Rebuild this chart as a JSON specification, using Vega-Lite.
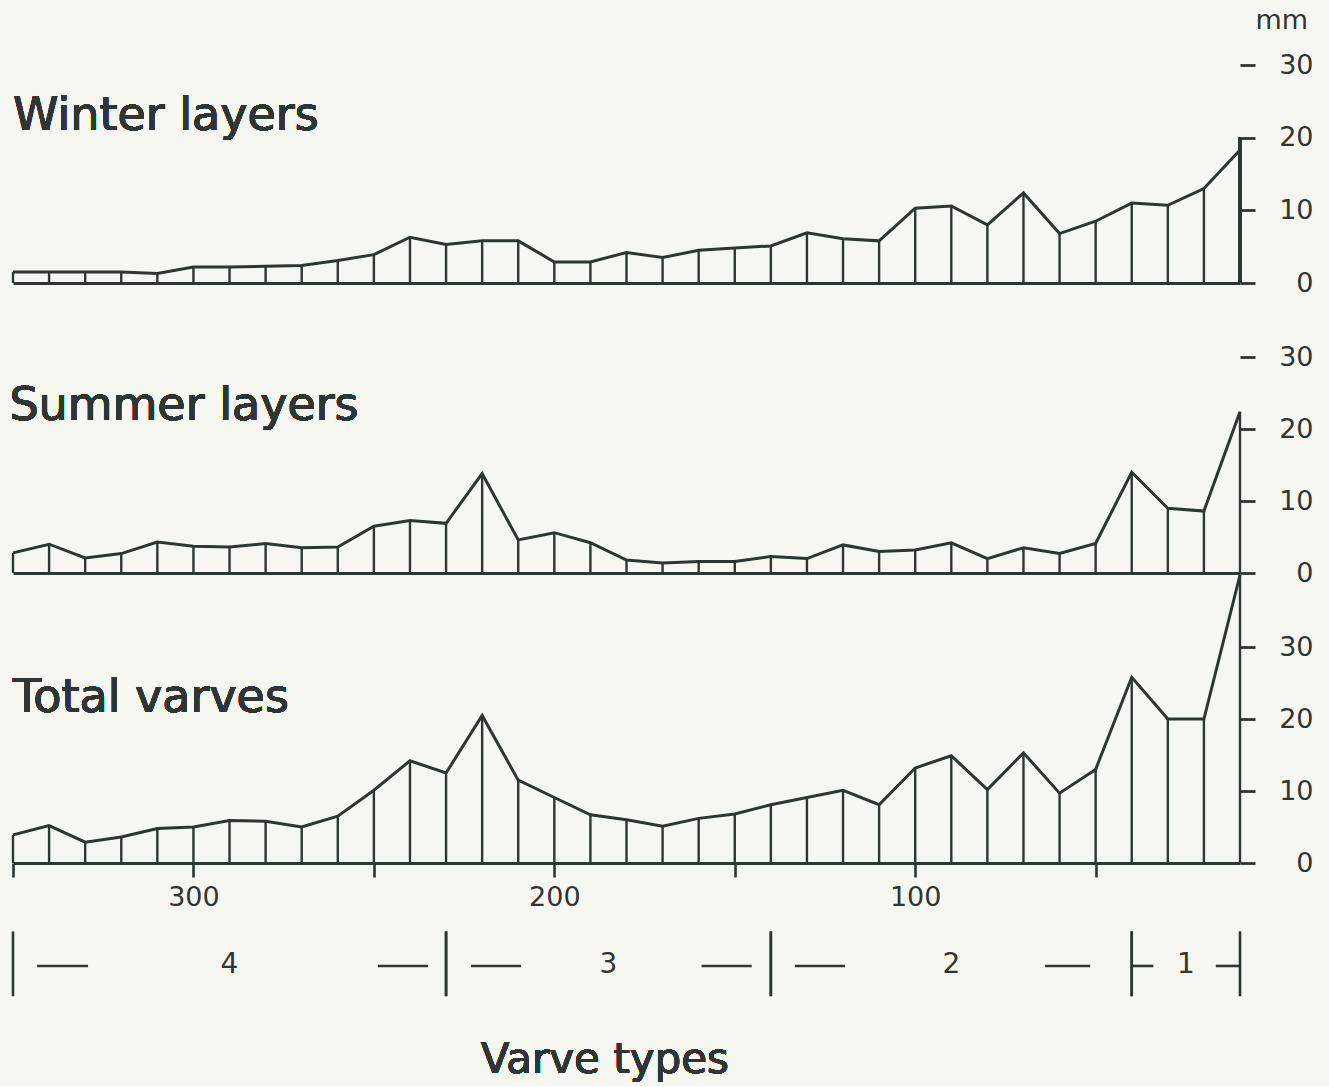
{
  "$schema": "https://vega.github.io/schema/vega-lite/v6.json",
  "background": "#f7f7f2",
  "padding": {"left": 7, "top": 6, "right": 21, "bottom": 4},
  "config": {
    "font": "DejaVu Sans",
    "view": {"stroke": null},
    "axis": {"labelColor": "#2f3532", "titleColor": "#2f3532", "grid": false}
  },
  "datasets": {
    "varves": [
      {"n": 350, "winter": 1.5, "summer": 2.8, "total": 3.9},
      {"n": 340, "winter": 1.5, "summer": 4.0, "total": 5.2},
      {"n": 330, "winter": 1.5, "summer": 2.1, "total": 2.9},
      {"n": 320, "winter": 1.5, "summer": 2.7, "total": 3.6},
      {"n": 310, "winter": 1.3, "summer": 4.3, "total": 4.8},
      {"n": 300, "winter": 2.2, "summer": 3.7, "total": 5.0},
      {"n": 290, "winter": 2.2, "summer": 3.6, "total": 5.9},
      {"n": 280, "winter": 2.3, "summer": 4.1, "total": 5.8},
      {"n": 270, "winter": 2.4, "summer": 3.5, "total": 5.0},
      {"n": 260, "winter": 3.1, "summer": 3.6, "total": 6.5},
      {"n": 250, "winter": 3.9, "summer": 6.5, "total": 10.1},
      {"n": 240, "winter": 6.3, "summer": 7.3, "total": 14.2},
      {"n": 230, "winter": 5.3, "summer": 6.9, "total": 12.5},
      {"n": 220, "winter": 5.8, "summer": 13.8, "total": 20.5},
      {"n": 210, "winter": 5.8, "summer": 4.6, "total": 11.5},
      {"n": 200, "winter": 2.9, "summer": 5.6, "total": 9.1},
      {"n": 190, "winter": 2.9, "summer": 4.2, "total": 6.7},
      {"n": 180, "winter": 4.2, "summer": 1.8, "total": 6.0},
      {"n": 170, "winter": 3.5, "summer": 1.4, "total": 5.1},
      {"n": 160, "winter": 4.5, "summer": 1.6, "total": 6.2},
      {"n": 150, "winter": 4.8, "summer": 1.6, "total": 6.8},
      {"n": 140, "winter": 5.1, "summer": 2.3, "total": 8.1},
      {"n": 130, "winter": 6.9, "summer": 2.0, "total": 9.1},
      {"n": 120, "winter": 6.1, "summer": 3.9, "total": 10.1},
      {"n": 110, "winter": 5.8, "summer": 3.0, "total": 8.1},
      {"n": 100, "winter": 10.3, "summer": 3.2, "total": 13.2},
      {"n": 90, "winter": 10.6, "summer": 4.2, "total": 14.9},
      {"n": 80, "winter": 8.0, "summer": 2.0, "total": 10.2},
      {"n": 70, "winter": 12.4, "summer": 3.5, "total": 15.3},
      {"n": 60, "winter": 6.8, "summer": 2.7, "total": 9.7},
      {"n": 50, "winter": 8.5, "summer": 4.1, "total": 13.0},
      {"n": 40, "winter": 11.0, "summer": 14.0, "total": 25.8},
      {"n": 30, "winter": 10.7, "summer": 9.0, "total": 20.0},
      {"n": 20, "winter": 13.0, "summer": 8.6, "total": 20.0},
      {"n": 10, "winter": 18.3, "summer": 22.4, "total": 40.0}
    ],
    "types": [
      {"type": "4", "start": 350, "end": 230},
      {"type": "3", "start": 230, "end": 140},
      {"type": "2", "start": 140, "end": 40},
      {"type": "1", "start": 40, "end": 10}
    ],
    "dashes": [
      {"from": 343.3, "to": 329.2},
      {"from": 248.9, "to": 235.0},
      {"from": 223.1, "to": 209.2},
      {"from": 159.2, "to": 145.3},
      {"from": 133.3, "to": 119.4},
      {"from": 64.0, "to": 51.5},
      {"from": 40.0, "to": 34.0},
      {"from": 16.7, "to": 10.0}
    ]
  },
  "spacing": 2,
  "bounds": "flush",
  "resolve": {"scale": {"x": "independent", "y": "independent"}, "axis": {"x": "independent", "y": "independent"}},
  "vconcat": [
    {
      "width": 1227,
      "height": 218,
      "data": {"name": "varves"},
      "layer": [
        {
          "mark": {"type": "rule", "strokeWidth": 2.4, "color": "#2e3631"},
          "encoding": {
            "x": {"field": "n", "type": "quantitative", "scale": {"domain": [350, 10], "nice": false, "zero": false},
                  "axis": {"labels": false, "ticks": false, "title": null, "domainColor": "#2e3631", "domainWidth": 2.8}},
            "y": {"field": "winter", "type": "quantitative", "scale": {"domain": [0, 30], "nice": false},
                  "axis": {"orient": "right", "values": [0, 10, 20, 30], "domain": false, "tickSize": 15, "tickWidth": 2.8, "tickColor": "#2e3631",
                           "labelAlign": "right", "labelBaseline": "middle", "labelPadding": 58, "labelFontSize": 27,
                           "title": "mm", "titleAngle": 0, "titleX": 15, "titleY": -37, "titleAlign": "left", "titleBaseline": "alphabetic",
                           "titleFontSize": 27, "titleFontWeight": "normal"}},
            "y2": {"datum": 0}
          }
        },
        {
          "mark": {"type": "line", "strokeWidth": 3, "color": "#2e3631"},
          "encoding": {"x": {"field": "n", "type": "quantitative"}, "y": {"field": "winter", "type": "quantitative"}}
        },
        {
          "mark": {"type": "rule", "strokeWidth": 2.8, "color": "#2e3631"},
          "encoding": {"x": {"datum": 10}, "y": {"datum": 0}, "y2": {"datum": 20}}
        },
        {
          "mark": {"type": "text", "align": "left", "baseline": "alphabetic", "fontSize": 46, "color": "#2f3532", "clip": false},
          "encoding": {"x": {"datum": 350}, "y": {"datum": 21}, "text": {"value": "Winter layers"}}
        }
      ]
    },
    {
      "width": 1227,
      "height": 288,
      "data": {"name": "varves"},
      "layer": [
        {
          "mark": {"type": "rule", "strokeWidth": 2.4, "color": "#2e3631"},
          "encoding": {
            "x": {"field": "n", "type": "quantitative", "scale": {"domain": [350, 10], "nice": false, "zero": false},
                  "axis": {"labels": false, "ticks": false, "title": null, "domainColor": "#2e3631", "domainWidth": 2.8}},
            "y": {"field": "summer", "type": "quantitative", "scale": {"domain": [0, 40], "nice": false},
                  "axis": {"orient": "right", "values": [0, 10, 20, 30], "domain": false, "tickSize": 15, "tickWidth": 2.8, "tickColor": "#2e3631",
                           "labelAlign": "right", "labelBaseline": "middle", "labelPadding": 58, "labelFontSize": 27, "title": null}},
            "y2": {"datum": 0}
          }
        },
        {
          "mark": {"type": "line", "strokeWidth": 3, "color": "#2e3631"},
          "encoding": {"x": {"field": "n", "type": "quantitative"}, "y": {"field": "summer", "type": "quantitative"}}
        },
        {
          "mark": {"type": "text", "align": "left", "baseline": "alphabetic", "fontSize": 46, "color": "#2f3532", "clip": false},
          "encoding": {"x": {"datum": 351}, "y": {"datum": 21.2}, "text": {"value": "Summer layers"}}
        }
      ]
    },
    {
      "width": 1227,
      "height": 288,
      "layer": [
        {
          "data": {"name": "varves"},
          "mark": {"type": "rule", "strokeWidth": 2.4, "color": "#2e3631"},
          "encoding": {
            "x": {"field": "n", "type": "quantitative", "scale": {"domain": [350, 10], "nice": false, "zero": false},
                  "axis": {"values": [350, 300, 250, 200, 150, 100, 50], "labelExpr": "datum.value % 100 == 0 ? datum.label : ''",
                           "title": null, "domainColor": "#2e3631", "domainWidth": 2.8, "tickSize": 14, "tickWidth": 2.6, "tickColor": "#2e3631",
                           "labelFontSize": 27, "labelPadding": 7}},
            "y": {"field": "total", "type": "quantitative", "scale": {"domain": [0, 40], "nice": false},
                  "axis": {"orient": "right", "values": [0, 10, 20, 30], "domain": false, "tickSize": 15, "tickWidth": 2.8, "tickColor": "#2e3631",
                           "labelAlign": "right", "labelBaseline": "middle", "labelPadding": 58, "labelFontSize": 27, "title": null}},
            "y2": {"datum": 0}
          }
        },
        {
          "data": {"name": "varves"},
          "mark": {"type": "line", "strokeWidth": 3, "color": "#2e3631"},
          "encoding": {"x": {"field": "n", "type": "quantitative"}, "y": {"field": "total", "type": "quantitative"}}
        },
        {
          "data": {"name": "varves"},
          "mark": {"type": "text", "align": "left", "baseline": "alphabetic", "fontSize": 46, "color": "#2f3532", "clip": false},
          "encoding": {"x": {"datum": 350}, "y": {"datum": 21}, "text": {"value": "Total varves"}}
        },
        {
          "data": {"name": "types"},
          "mark": {"type": "rule", "strokeWidth": 2.6, "color": "#2e3631", "clip": false},
          "encoding": {"x": {"field": "start", "type": "quantitative"}, "y": {"datum": -9.5}, "y2": {"datum": -18.5}}
        },
        {
          "data": {"name": "types"},
          "mark": {"type": "rule", "strokeWidth": 2.6, "color": "#2e3631", "clip": false},
          "encoding": {"x": {"field": "end", "type": "quantitative"}, "y": {"datum": -9.5}, "y2": {"datum": -18.5}}
        },
        {
          "data": {"name": "types"},
          "transform": [{"calculate": "(datum.start + datum.end) / 2", "as": "mid"}],
          "mark": {"type": "text", "align": "center", "baseline": "middle", "fontSize": 28, "color": "#2f3532", "clip": false},
          "encoding": {"x": {"field": "mid", "type": "quantitative"}, "y": {"datum": -14.2}, "text": {"field": "type"}}
        },
        {
          "data": {"name": "dashes"},
          "mark": {"type": "rule", "strokeWidth": 2.6, "color": "#2e3631", "clip": false},
          "encoding": {"x": {"field": "from", "type": "quantitative"}, "x2": {"field": "to"}, "y": {"datum": -14.3}}
        },
        {
          "data": {"name": "varves"},
          "mark": {"type": "text", "align": "center", "baseline": "alphabetic", "fontSize": 42, "color": "#2f3532", "clip": false},
          "encoding": {"x": {"datum": 186}, "y": {"datum": -29.2}, "text": {"value": "Varve types"}}
        }
      ]
    }
  ]
}
